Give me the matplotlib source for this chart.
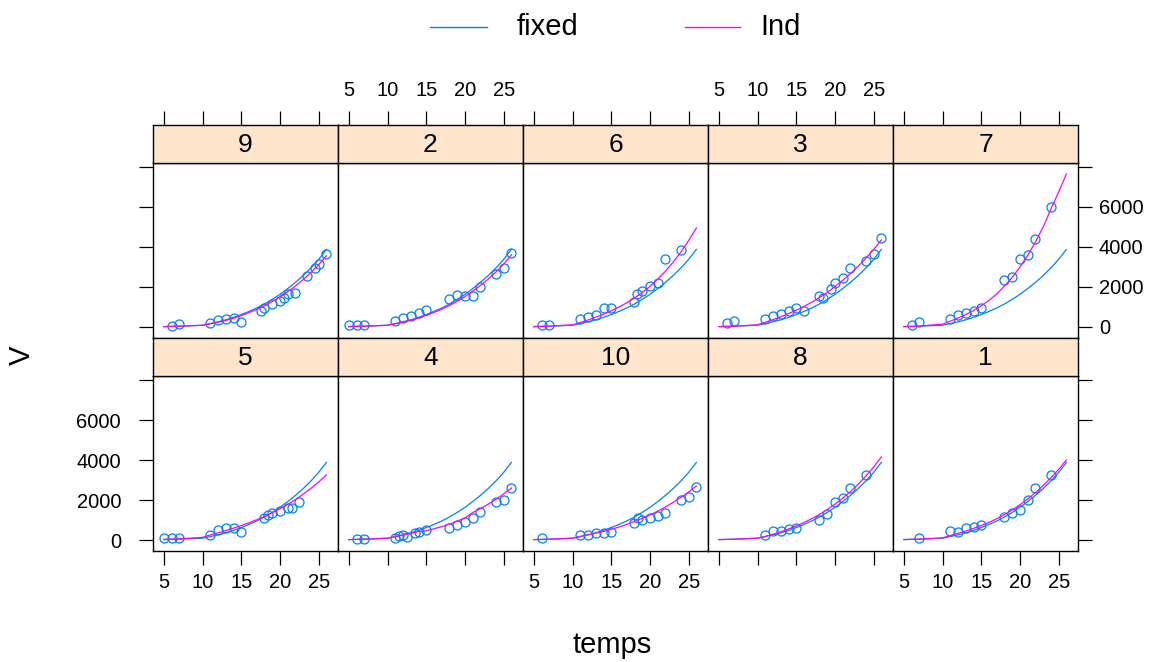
import matplotlib
matplotlib.use("Agg")
import matplotlib.pyplot as plt
from matplotlib.lines import Line2D

plt.rcParams['font.family'] = ['Liberation Sans', 'DejaVu Sans']

# ---------------- data ----------------
panel_ids = ["9", "2", "6", "3", "7", "5", "4", "10", "8", "1"]

grid_temps = [5, 6, 7, 10, 11, 12, 13, 14, 15, 16, 17, 18, 19, 20, 21, 22, 23, 24, 25, 26]
fixed_V = [20, 30, 40, 90, 170, 260, 360, 480, 620, 780, 950, 1150, 1380, 1630, 1920, 2230, 2570, 2950, 3380, 3880]

ind_V_9 = [20, 30, 40, 85, 160, 240, 330, 440, 570, 720, 880, 1060, 1270, 1500, 1760, 2050, 2370, 2720, 3110, 3560]
ind_V_2 = [20, 30, 40, 85, 160, 245, 335, 450, 580, 730, 885, 1070, 1285, 1520, 1790, 2075, 2390, 2745, 3140, 3610]
ind_V_6 = [20, 30, 40, 110, 220, 350, 490, 640, 810, 1000, 1210, 1450, 1720, 2030, 2390, 2790, 3240, 3750, 4320, 4950]
ind_V_3 = [20, 30, 40, 110, 240, 370, 510, 670, 840, 1030, 1240, 1470, 1730, 2020, 2330, 2670, 3040, 3440, 3880, 4350]
ind_V_7 = [20, 30, 50, 140, 290, 450, 620, 820, 1060, 1330, 1650, 2050, 2480, 3000, 3580, 4250, 5000, 5900, 6750, 7650]
ind_V_5 = [35, 45, 60, 130, 250, 360, 470, 590, 720, 860, 1010, 1180, 1360, 1560, 1780, 2020, 2290, 2580, 2900, 3250]
ind_V_4 = [20, 30, 40, 90, 170, 250, 330, 420, 460, 560, 670, 800, 940, 1100, 1370, 1570, 1790, 2030, 2300, 2600]
ind_V_10 = [20, 30, 40, 90, 180, 260, 340, 430, 530, 650, 780, 920, 1080, 1250, 1440, 1650, 1880, 2130, 2400, 2700]
ind_V_8 = [20, 30, 40, 90, 180, 290, 410, 550, 700, 870, 1060, 1280, 1520, 1790, 2090, 2420, 2790, 3200, 3650, 4150]
ind_V_1 = [25, 35, 45, 110, 220, 330, 450, 580, 720, 880, 1060, 1270, 1500, 1760, 2050, 2370, 2720, 3110, 3530, 4000]

obs_t_9 = [6, 7, 11, 12, 13, 14, 15, 17.5, 18, 19, 20, 20.5, 21, 22, 23.5, 24.5, 25, 26]
obs_V_9 = [50, 130, 220, 330, 380, 470, 250, 800, 970, 1130, 1300, 1470, 1630, 1700, 2550, 2970, 3130, 3630]
obs_t_2 = [5, 6, 7, 11, 12, 13, 14, 15, 18, 19, 20, 21, 22, 24, 25, 26]
obs_V_2 = [100, 100, 100, 300, 470, 570, 720, 850, 1380, 1580, 1550, 1550, 2000, 2630, 2970, 3720]
obs_t_6 = [6, 7, 11, 12, 13, 14, 15, 18, 18.3, 19, 20, 21, 22, 24]
obs_V_6 = [100, 100, 380, 500, 600, 970, 970, 1250, 1630, 1800, 2050, 2200, 3420, 3830]
obs_t_3 = [6, 7, 11, 12, 13, 14, 15, 16, 18, 18.5, 19.5, 20, 21, 22, 24, 25, 26]
obs_V_3 = [220, 300, 380, 550, 630, 800, 930, 800, 1550, 1470, 1880, 2200, 2470, 2970, 3300, 3630, 4430]
obs_t_7 = [6, 7, 11, 12, 13, 14, 15, 18, 19, 20, 21, 22, 24]
obs_V_7 = [80, 250, 420, 580, 720, 800, 970, 2330, 2500, 3380, 3580, 4420, 6000]
obs_t_5 = [5, 6, 7, 11, 12, 13, 14, 15, 18, 18.5, 19, 20, 21, 21.5, 22.5]
obs_V_5 = [100, 100, 100, 250, 500, 580, 580, 420, 1090, 1250, 1340, 1450, 1590, 1590, 1890]
obs_t_4 = [6, 7, 11, 11.5, 12, 12.5, 13.5, 14, 15, 18, 19, 20, 21, 22, 24, 25, 26]
obs_V_4 = [50, 50, 80, 220, 250, 170, 330, 420, 500, 580, 750, 920, 1090, 1420, 1920, 2000, 2590]
obs_t_10 = [6, 11, 12, 13, 14, 15, 18, 18.5, 19, 20, 21, 22, 24, 25, 26]
obs_V_10 = [80, 250, 250, 330, 330, 420, 840, 1090, 1000, 1090, 1220, 1340, 2000, 2170, 2670]
obs_t_8 = [11, 12, 13, 14, 15, 18, 19, 20, 21, 22, 24]
obs_V_8 = [250, 450, 450, 550, 620, 1000, 1290, 1920, 2090, 2590, 3260]
obs_t_1 = [7, 11, 12, 13, 14, 15, 18, 19, 20, 21, 22, 24]
obs_V_1 = [80, 450, 420, 580, 670, 750, 1170, 1340, 1500, 2000, 2590, 3260]

x_ticks = [5, 10, 15, 20, 25]
y_ticks = [0, 2000, 4000, 6000, 8000]
y_ticklabels = ["0", "2000", "4000", "6000", ""]

panels = {
    "9": (obs_t_9, obs_V_9, ind_V_9), "2": (obs_t_2, obs_V_2, ind_V_2),
    "6": (obs_t_6, obs_V_6, ind_V_6), "3": (obs_t_3, obs_V_3, ind_V_3),
    "7": (obs_t_7, obs_V_7, ind_V_7), "5": (obs_t_5, obs_V_5, ind_V_5),
    "4": (obs_t_4, obs_V_4, ind_V_4), "10": (obs_t_10, obs_V_10, ind_V_10),
    "8": (obs_t_8, obs_V_8, ind_V_8), "1": (obs_t_1, obs_V_1, ind_V_1),
}

# ---------------- style ----------------
BLUE = "#0080ff"
MAGENTA = "#ff00ff"
STRIP = "#ffe5cc"
TICK_FS = 14.5
STRIP_FS = 19
LABEL_FS = 21

W, H = 1165, 662
fig = plt.figure(figsize=(W / 100, H / 100), dpi=100)


def rect(x0, y0, x1, y1):
    return [x0 / W, 1 - y1 / H, (x1 - x0) / W, (y1 - y0) / H]


col_edges = [153, 338, 523, 708, 893, 1078]
strip_tops = [125, 338]
strip_h = 37.5
panel_bottoms = [338, 551]
xlim = (3.6, 27.5)
ylim = (-550, 8225)

for idx, pid in enumerate(panel_ids):
    r, c = divmod(idx, 5)
    x0, x1 = col_edges[c], col_edges[c + 1]
    st = strip_tops[r]
    sb = st + strip_h
    pb = panel_bottoms[r]

    ax = fig.add_axes(rect(x0, sb, x1, pb))
    sax = fig.add_axes(rect(x0, st, x1, sb))

    t_obs, v_obs, v_ind = panels[pid]
    ax.plot(t_obs, v_obs, linestyle="none", marker="o", markersize=6.5,
            markerfacecolor="none", markeredgecolor=BLUE, markeredgewidth=0.9, zorder=2)
    ax.plot(grid_temps, fixed_V, color=BLUE, lw=0.9, zorder=3)
    ax.plot(grid_temps, v_ind, color=MAGENTA, lw=0.9, zorder=3)

    ax.set_xlim(*xlim)
    ax.set_ylim(*ylim)
    for s in ax.spines.values():
        s.set_linewidth(1.0)
        s.set_color("black")

    ax.set_xticks(x_ticks)
    ax.set_yticks(y_ticks)
    ax.set_yticklabels(y_ticklabels)
    ax.tick_params(axis="both", direction="out", length=10, width=0.9,
                   labelsize=TICK_FS, colors="black")
    if r == 1:
        ax.tick_params(axis="x", bottom=True, top=False, labelbottom=(c % 2 == 0),
                       labeltop=False, pad=6)
    else:
        ax.tick_params(axis="x", bottom=False, top=False, labelbottom=False, labeltop=False)

    left_on = (c == 0)
    right_on = (c == 4)
    ax.tick_params(axis="y", left=left_on, right=right_on,
                   labelleft=(left_on and r == 1), labelright=(right_on and r == 0), pad=5)
    if left_on and r == 1:
        ax.tick_params(axis="y", pad=13)

    # strip
    sax.set_facecolor(STRIP)
    sax.set_xlim(*xlim)
    sax.set_ylim(0, 1)
    sax.set_yticks([])
    for s in sax.spines.values():
        s.set_linewidth(1.0)
        s.set_color("black")
    sax.text(0.5, 0.47, pid, transform=sax.transAxes, ha="center", va="center",
             fontsize=STRIP_FS, color="black")
    if r == 0:
        sax.set_xticks(x_ticks)
        sax.tick_params(axis="x", direction="out", length=10, width=0.9, top=True,
                        bottom=False, labeltop=(c % 2 == 1), labelbottom=False,
                        labelsize=TICK_FS, pad=8)
    else:
        sax.set_xticks([])

# axis labels
fig.text(612 / W, 1 - 645 / H, "temps", ha="center", va="center", fontsize=LABEL_FS)
fig.text(22 / W, 1 - 355 / H, "V", ha="center", va="center", fontsize=LABEL_FS, rotation=90)

# legend
ly = 1 - 27 / H
fig.add_artist(Line2D([430 / W, 487 / W], [ly, ly], color=BLUE, lw=1.0))
fig.text(517 / W, ly, "fixed", ha="left", va="center", fontsize=LABEL_FS)
fig.add_artist(Line2D([685 / W, 740 / W], [ly, ly], color=MAGENTA, lw=1.0))
fig.text(760 / W, ly, "Ind", ha="left", va="center", fontsize=LABEL_FS)

fig.savefig("out.png", dpi=100, facecolor="white")
